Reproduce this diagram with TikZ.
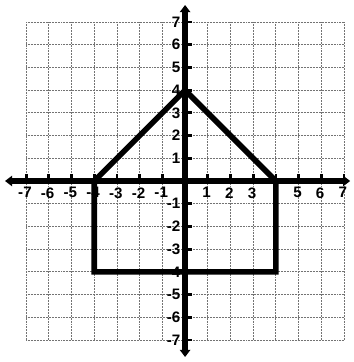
\documentclass[tikz,border=0pt]{standalone}
\usepackage{fontspec}
\setmainfont{Liberation Sans}
\usetikzlibrary{arrows.meta}
\begin{document}
\begin{tikzpicture}[
  gridline/.style={black!55, line width=1.1pt, dash pattern=on 1pt off 0.9pt},
  axisline/.style={line width=6.5pt, {Triangle[length=9pt,width=13pt]}-{Triangle[length=9pt,width=13pt]}},
  tickmark/.style={line width=3.5pt},
  shapeline/.style={line width=7pt, line join=miter},
  lbl/.style={font=\bfseries\fontsize{19}{19}\selectfont, inner sep=0pt}
]
\useasboundingbox (-8.15,-7.97) rectangle (7.40,7.97);
% grid
\foreach \i in {-7,...,-1,1,2,...,7} {
  \draw[gridline] (\i,-7) -- (\i,7);
  \draw[gridline] (-7,\i) -- (7,\i);
}
% axes
\coordinate (xl) at (-7.93,0);
\coordinate (xr) at (7.27,0);
\coordinate (yt) at (0,7.75);
\coordinate (yb) at (0,-7.75);
\draw[axisline] (xl) -- (xr);
\draw[axisline] (yb) -- (yt);
% ticks
\foreach \i in {-7,...,-1,1,2,...,7} {
  \draw[tickmark] (\i,-0.12) -- (\i,0.32);
  \draw[tickmark] (-0.12,\i) -- (0.32,\i);
}
% labels
\foreach \i in {-7,...,-1,1,2,3,5,6,7} {
  \node[lbl, anchor=north] (xlab\i) at (\i-0.05,-0.28) {\i};
}
\foreach \i in {-7,...,-1,1,2,...,7} {
  \node[lbl, anchor=east] (ylab\i) at (-0.2,\i) {\i};
}
% polygon
\coordinate (A) at (-4,0);
\coordinate (B) at (0,4);
\coordinate (C) at (4,0);
\coordinate (D) at (4,-4);
\coordinate (E) at (-4,-4);
\draw[shapeline] (A) -- (B) -- (C) -- (D) -- (E) -- cycle;
\end{tikzpicture}
\end{document}
